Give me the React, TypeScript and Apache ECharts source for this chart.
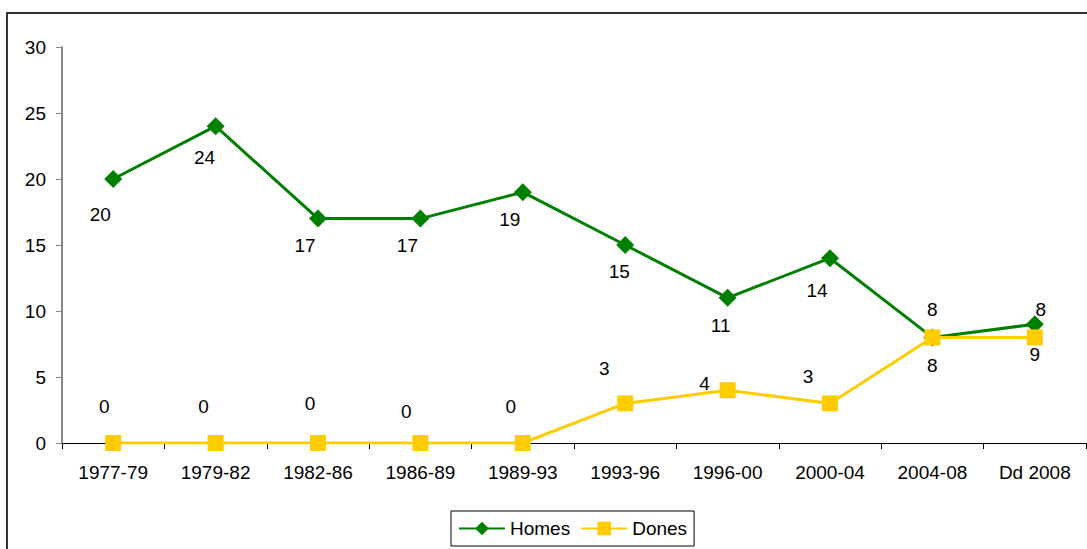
import React, { useEffect, useRef } from "react";
import * as echarts from "echarts";

const categories = ["1977-79", "1979-82", "1982-86", "1986-89", "1989-93", "1993-96", "1996-00", "2000-04", "2004-08", "Dd 2008"];
const homes = [20, 24, 17, 17, 19, 15, 11, 14, 8, 9];
const dones = [0, 0, 0, 0, 0, 3, 4, 3, 8, 8];
const homesLabels = ["20", "24", "17", "17", "19", "15", "11", "14", "8", "9"];
const donesLabels = ["0", "0", "0", "0", "0", "3", "4", "3", "8", "8"];
const yTicks = [0, 5, 10, 15, 20, 25, 30];

// label offsets (styling, relative to the point)
const homesLabelOffsets = [[-13, 35], [-11, 31], [-13, 27], [-13, 27], [-13, 27], [-6, 26], [-7, 28], [-13, 32], [0, 28], [0, 30]];
const donesLabelOffsets = [[-9, -37], [-12, -37], [-8, -40], [-14, -32], [-12, -37], [-21, -35], [-23, -7], [-22, -27], [0, -28], [6, -28]];

const FONT = "'Liberation Sans', Arial, sans-serif";

export default function App() {
  const ref = useRef<HTMLDivElement>(null);
  useEffect(() => {
    if (!ref.current) return;
    const chart = echarts.init(ref.current, null, { renderer: "svg" });
    const mk = (vals: number[], labels: string[], offs: number[][]) =>
      vals.map((v, i) => ({
        value: v,
        label: { show: true, position: "inside", offset: offs[i], formatter: labels[i] },
      }));
    chart.setOption({
      animation: false,
      backgroundColor: "#fff",
      textStyle: { fontFamily: FONT },
      graphic: [
        {
          type: "rect",
          shape: { x: 7, y: 13, width: 1200, height: 700 },
          style: { fill: "none", stroke: "#333", lineWidth: 2 },
          silent: true,
        },
      ],
      grid: { left: 62, right: 1, top: 47, bottom: 106 },
      xAxis: {
        type: "category",
        data: categories,
        boundaryGap: true,
        axisLine: { lineStyle: { color: "#000", width: 1 } },
        axisTick: { show: true, length: 6, inside: false, lineStyle: { color: "#000" } },
        axisLabel: { color: "#000", fontSize: 19, fontFamily: FONT, margin: 20 },
        splitLine: { show: false },
      },
      yAxis: {
        type: "value",
        min: yTicks[0],
        max: yTicks[yTicks.length - 1],
        interval: 5,
        axisLine: { show: true, lineStyle: { color: "#888", width: 2 } },
        axisTick: { show: true, length: 6, lineStyle: { color: "#888" } },
        axisLabel: { color: "#000", fontSize: 19, fontFamily: FONT, margin: 16 },
        splitLine: { show: false },
      },
      legend: {
        left: 451,
        top: 511,
        orient: "horizontal",
        borderColor: "#000",
        borderWidth: 1,
        padding: [8, 7],
        itemWidth: 46,
        itemHeight: 17,
        itemGap: 10,
        textStyle: { color: "#000", fontSize: 19, fontFamily: FONT },
        data: ["Homes", "Dones"],
      },
      series: [
        {
          name: "Homes",
          type: "line",
          data: mk(homes, homesLabels, homesLabelOffsets),
          symbol: "diamond",
          symbolSize: 18,
          lineStyle: { color: "#008000", width: 3 },
          itemStyle: { color: "#008000" },
          label: { color: "#000", fontSize: 19, fontFamily: FONT },
          z: 2,
        },
        {
          name: "Dones",
          type: "line",
          data: mk(dones, donesLabels, donesLabelOffsets),
          symbol: "rect",
          symbolSize: 16,
          lineStyle: { color: "#FFCC00", width: 3 },
          itemStyle: { color: "#FFCC00" },
          label: { color: "#000", fontSize: 19, fontFamily: FONT },
          z: 3,
        },
      ],
    });
    return () => chart.dispose();
  }, []);
  return (
    <div
      ref={ref}
      style={{ position: "fixed", left: 0, top: 0, width: 1087, height: 549, background: "#fff" }}
    />
  );
}
